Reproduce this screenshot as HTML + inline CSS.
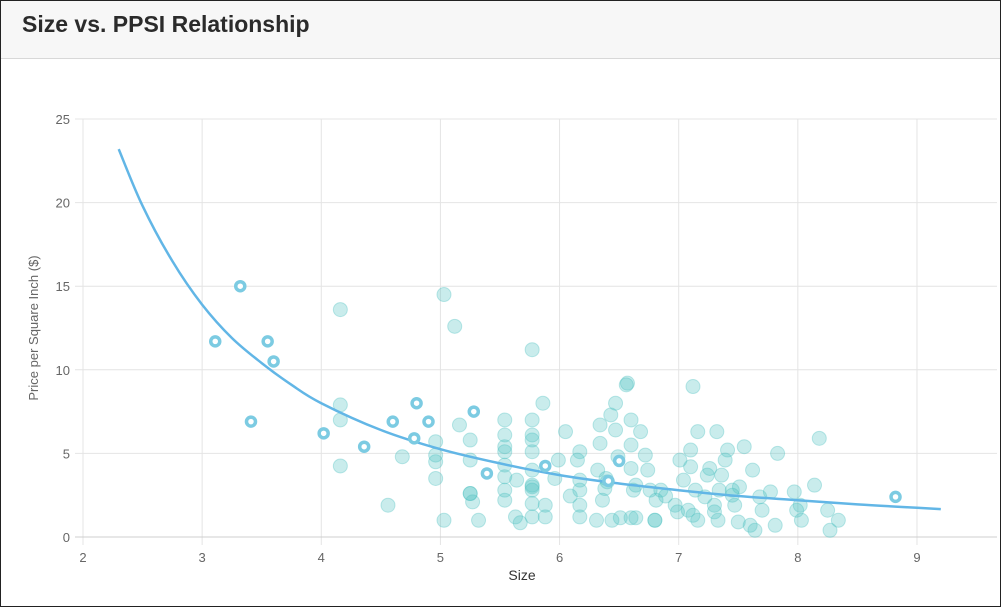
<!DOCTYPE html>
<html><head><meta charset="utf-8"><style>
body{margin:0;width:1001px;height:607px;overflow:hidden;background:#fff;font-family:"Liberation Sans",sans-serif}
#frame{position:absolute;left:0;top:0;width:999px;height:605px;border:1px solid #222;}
#hdr{position:absolute;left:0;top:0;width:999px;height:57px;background:#f7f7f7;border-bottom:1px solid #d8d8d8}
#ttl{position:absolute;left:21px;top:10px;font-size:23px;font-weight:600;color:#2b2b2b}
svg{position:absolute;left:0;top:0}
</style></head><body>
<div id="frame">
<div id="hdr"><div id="ttl">Size vs. PPSI Relationship</div></div>
</div>
<svg id="c" width="1001" height="607"></svg>
<script>
const xTicks=[2,3,4,5,6,7,8,9];
const yTicks=[0,5,10,15,20,25];
const ringX=[3.11,3.32,3.41,3.55,3.6,4.02,4.36,4.6,4.78,4.8,4.9,5.28,5.39,5.88,6.5,6.41,8.82];
const ringY=[11.7,15.0,6.9,11.7,10.5,6.2,5.4,6.9,5.9,8.0,6.9,7.5,3.8,4.25,4.55,3.35,2.4];
const dotX=[4.16,4.16,4.16,4.16,4.56,4.68,4.96,4.96,4.96,4.96,5.03,5.12,5.03,5.16,5.25,5.25,5.25,5.27,5.32,5.54,5.54,5.54,5.54,5.54,5.54,5.54,5.54,5.63,5.67,5.64,5.77,5.77,5.77,5.77,5.77,5.77,5.77,5.77,5.77,5.77,5.86,5.88,5.88,5.96,5.99,6.05,6.09,6.15,6.17,6.17,6.17,6.17,6.17,6.31,6.32,6.34,6.34,6.36,6.38,6.39,6.43,6.47,6.47,6.44,6.49,6.51,6.56,6.57,6.6,6.6,6.6,6.62,6.64,6.64,6.68,6.72,6.74,6.76,6.8,6.81,6.85,6.89,6.97,6.99,7.01,7.04,7.08,7.1,7.1,7.12,7.12,7.14,7.16,7.16,7.22,7.24,7.26,7.3,7.32,7.33,7.34,7.36,7.39,7.41,7.45,7.47,7.5,7.51,7.55,7.6,7.62,7.64,7.68,7.7,7.77,7.81,7.83,7.97,7.99,8.02,8.03,8.14,8.18,8.25,8.27,8.34,7.3,7.45,6.8,6.6,6.4,5.25,5.77];
const dotY=[13.6,7.9,7.0,4.25,1.9,4.8,5.7,4.9,4.5,3.5,14.5,12.6,1.0,6.7,5.8,4.6,2.6,2.1,1.0,7.0,6.1,5.4,5.1,4.3,3.6,2.8,2.2,1.2,0.85,3.4,11.2,7.0,6.1,5.8,5.1,4.0,3.1,2.8,2.0,1.2,8.0,1.2,1.9,3.5,4.6,6.3,2.45,4.6,5.1,3.4,2.8,1.9,1.2,1.0,4.0,5.6,6.7,2.2,2.9,3.5,7.3,8.0,6.4,1.0,4.8,1.15,9.1,9.2,7.0,5.5,4.1,2.8,1.15,3.1,6.3,4.9,4.0,2.8,1.0,2.2,2.8,2.45,1.9,1.5,4.6,3.4,1.6,5.2,4.2,9.0,1.3,2.8,6.3,1.0,2.4,3.7,4.1,1.9,6.3,1.0,2.8,3.7,4.6,5.2,2.5,1.9,0.9,3.0,5.4,0.7,4.0,0.4,2.4,1.6,2.7,0.7,5.0,2.7,1.6,1.9,1.0,3.1,5.9,1.6,0.4,1.0,1.5,2.8,1.0,1.15,3.3,2.6,3.0];
const fitX=[2.3,2.5,2.75,3,3.25,3.5,3.75,4,4.5,5,5.5,6,6.5,7,7.5,8,8.5,9,9.2];
const fitY=[23.2,19.8,16.5,13.9,11.9,10.4,9.1,8.0,6.4,5.25,4.4,3.7,3.2,2.8,2.45,2.2,1.95,1.75,1.67];
const NS='http://www.w3.org/2000/svg',svg=document.getElementById('c');
const X=v=>83+(v-2)*119.14, Y=v=>537-v*16.72;
function mk(t,a){const e=document.createElementNS(NS,t);for(const k in a)e.setAttribute(k,a[k]);svg.appendChild(e);return e;}
xTicks.forEach(t=>{const l=mk('line',{x1:X(t),x2:X(t),y1:119,y2:545,stroke:'#e4e4e4','stroke-width':1});


const tx=mk('text',{x:X(t),y:562,'text-anchor':'middle','font-size':13,fill:'#666'});tx.textContent=t;

});
yTicks.forEach(t=>{const l=mk('line',{x1:75,x2:997,y1:Y(t),y2:Y(t),stroke:t===0?'#cfcfcf':'#e4e4e4','stroke-width':1});


const tx=mk('text',{x:70,y:Y(t)+5,'text-anchor':'end','font-size':13,fill:'#666'});tx.textContent=t;

});
const yt=mk('text',{x:0,y:0,transform:'translate(38,328) rotate(-90)','text-anchor':'middle','font-size':13,fill:'#666'});yt.textContent='Price per Square Inch ($)';


const xt=mk('text',{x:522,y:580,'text-anchor':'middle','font-size':14,fill:'#333'});xt.textContent='Size';


dotX.forEach((v,i)=>{const c=mk('circle',{cx:X(v),cy:Y(dotY[i]),r:7,fill:'rgba(75,192,192,0.3)',stroke:'rgba(75,192,192,0.35)','stroke-width':1});

});
// smooth curve via Catmull-Rom through fit samples
const pts=fitX.map((v,i)=>[X(v),Y(fitY[i])]);
let d='M'+pts[0][0].toFixed(1)+','+pts[0][1].toFixed(1);
for(let i=0;i<pts.length-1;i++){const p0=pts[Math.max(0,i-1)],p1=pts[i],p2=pts[i+1],p3=pts[Math.min(pts.length-1,i+2)];
const c1=[p1[0]+(p2[0]-p0[0])/6,p1[1]+(p2[1]-p0[1])/6],c2=[p2[0]-(p3[0]-p1[0])/6,p2[1]-(p3[1]-p1[1])/6];
d+='C'+c1.map(n=>n.toFixed(1)).join(',')+' '+c2.map(n=>n.toFixed(1)).join(',')+' '+p2.map(n=>n.toFixed(1)).join(',');}
const p=mk('path',{d:d,fill:'none',stroke:'#62b6e6','stroke-width':2.5});


ringX.forEach((v,i)=>{const c=mk('circle',{cx:X(v),cy:Y(ringY[i]),r:4.5,fill:'#fff',stroke:'#7ccbe2','stroke-width':3.5});

});
</script>
</body></html>
